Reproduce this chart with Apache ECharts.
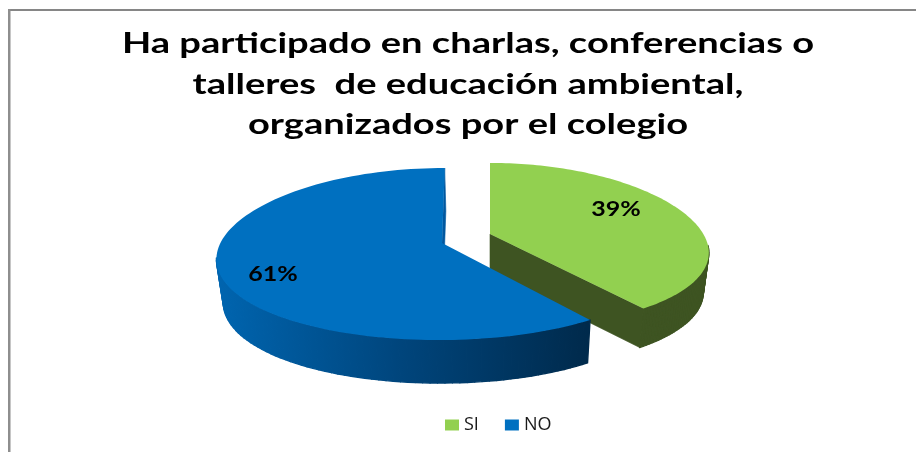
<!DOCTYPE html>
<html>
<head>
<meta charset="utf-8">
<title>Charlas</title>
<style>
  html, body { margin: 0; padding: 0; background: #fff; }
  #chart { width: 916px; height: 452px; }
</style>
<script src="https://cdn.jsdelivr.net/npm/echarts@6/dist/echarts.min.js"></script>
</head>
<body>
<div id="chart"></div>
<script>
var titleText = "Ha participado en charlas, conferencias o\ntalleres  de educación ambiental,\norganizados por el colegio";
var categories = ["SI", "NO"];
var percents = [39, 61];
var faceColors = ["#92d050", "#0070c0"];

// vista del "3D": el vertice de cada porcion, radios y perspectiva
var VX = 490, BOTTOM = 0.975;
var slices = [
  { ax: 490, ay: 234, cy: 8, rx: 217, ry: 83, kx: 0.128, ky: 0.05, depth: 39, labelX: 616, labelY: 210 },
  { ax: 442, ay: 243, cy: 10, rx: 225, ry: 86, kx: 0.06, ky: 0.012, depth: 43, labelX: 273, labelY: 275 }
];

function project(s, theta, r, low) {
  var d = -Math.cos(theta) * r;
  var px = 1 / (1 - s.kx * d);
  var py = 1 / (1 - s.ky * d);
  var X = (s.ax - VX) + s.rx * Math.sin(theta) * r;
  var k = low ? BOTTOM : 1;
  return [VX + X * px * k, s.ay + s.cy * r + s.ry * d * py + (low ? s.depth : 0)];
}

var STEPS = 120;

function arcPoints(s, from, to, low) {
  var pts = [];
  for (var i = 0; i <= STEPS; i++) {
    pts.push(project(s, from + (to - from) * i / STEPS, 1, low));
  }
  return pts;
}

function makeRender(idx) {
  return function () {
    var s = slices[idx];
    var total = percents[0] + percents[1];
    var start = 0;
    for (var i = 0; i < idx; i++) start += percents[i] / total * Math.PI * 2;
    var end = start + percents[idx] / total * Math.PI * 2;
    var top = arcPoints(s, start, end, false);
    var low = arcPoints(s, start, end, true);
    var last = top.length - 1;
    var apex = project(s, 0, 0, false);
    var apexLow = project(s, 0, 0, true);
    var wallColor = idx === 0 ? "#3e5422" : "#0058a0";
    var sideFill = idx === 0 ? "#3e5422" : {
      type: "linear", x: 215, y: 0, x2: 587, y2: 0, global: true,
      colorStops: [
        { offset: 0, color: "#0065b0" },
        { offset: 0.5, color: "#00457c" },
        { offset: 1, color: "#002a4c" }
      ]
    };
    var children = [];
    // lateral curvo, tramo a tramo; la parte de atras queda oculta y no se dibuja
    for (var q = 0; q < last; q++) {
      var mid = start + (end - start) * (q + 0.5) / STEPS;
      if (Math.cos(mid) > -0.05) continue;
      children.push({
        type: "polygon",
        shape: { points: [top[q], top[q + 1], low[q + 1], low[q]] },
        style: { fill: sideFill, stroke: sideFill, lineWidth: 1.4, lineJoin: "round" }
      });
    }
    // pared del corte
    children.push({
      type: "polygon",
      shape: { points: [apex, top[last], low[last], apexLow] },
      style: { fill: wallColor, stroke: wallColor, lineWidth: 0.6 }
    });
    // cara superior
    children.push({
      type: "polygon",
      shape: { points: [apex].concat(top) },
      style: { fill: faceColors[idx] }
    });
    children.push({
      type: "text",
      x: s.labelX,
      y: s.labelY,
      scaleX: 1.25,
      style: {
        text: percents[idx] + "%",
        fill: "#000",
        font: "bold 20px Lato",
        align: "center", verticalAlign: "middle"
      }
    });
    return { type: "group", children: children };
  };
}

var chart = echarts.init(document.getElementById("chart"), null, { renderer: "canvas" });
chart.setOption({
  animation: false,
  backgroundColor: "#fff",
  color: faceColors,
  graphic: [
    // marco: solo arriba y a la izquierda
    { type: "rect", shape: { x: 8, y: 9, width: 908, height: 2 }, style: { fill: "#868686" }, silent: true },
    { type: "rect", shape: { x: 8, y: 9, width: 2.5, height: 443 }, style: { fill: "#8e8e8e" }, silent: true },
    {
      type: "text",
      x: 468,
      y: 24,
      scaleX: 1.36,
      silent: true,
      style: {
        text: titleText,
        font: "bold 28px Lato",
        lineHeight: 40.5,
        fill: "#000",
        align: "center"
      }
    }
  ],
  legend: {
    left: 440,
    top: 411,
    itemWidth: 14,
    itemHeight: 11,
    itemGap: 26,
    icon: "rect",
    textStyle: { fontFamily: "Open Sans", fontSize: 18, color: "#1a1a1a" },
    data: categories
  },
  series: categories.map(function (name, i) {
    return {
      name: name,
      type: "custom",
      coordinateSystem: "none",
      renderItem: makeRender(i),
      data: [percents[i]],
      z: i + 2,
      silent: true
    };
  })
});
window.addEventListener("resize", function () { chart.resize(); });
</script>
</body>
</html>
